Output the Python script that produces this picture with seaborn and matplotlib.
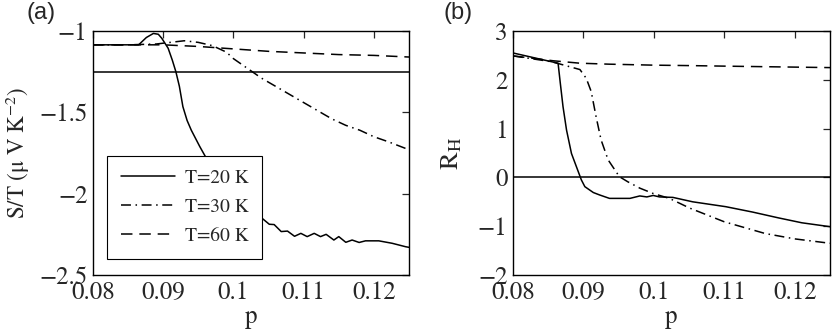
import numpy as np
import pandas as pd
import matplotlib
matplotlib.use("Agg")
import matplotlib.pyplot as plt
import seaborn as sns

# ---- panel (a): S/T vs p ----
p20_a = [0.080, 0.0865, 0.0876, 0.0886, 0.0893, 0.0898, 0.0907, 0.0913, 0.0918, 0.0923,
         0.0928, 0.0934, 0.094, 0.0952, 0.0965, 0.098, 0.0993, 0.1006, 0.102, 0.103,
         0.1039, 0.1051, 0.1058, 0.1068, 0.1077, 0.1087, 0.1096, 0.1105, 0.1115, 0.1124,
         0.1132, 0.1143, 0.115, 0.116, 0.1169, 0.1179, 0.1188, 0.1207, 0.1226, 0.1245, 0.125]
s20_a = [-1.085, -1.085, -1.04, -1.015, -1.02, -1.045, -1.106, -1.18, -1.25, -1.34,
         -1.465, -1.55, -1.61, -1.71, -1.81, -1.93, -2.02, -2.08, -2.09, -2.14,
         -2.145, -2.188, -2.19, -2.233, -2.23, -2.262, -2.244, -2.264, -2.244, -2.264,
         -2.25, -2.285, -2.264, -2.299, -2.285, -2.30, -2.29, -2.29, -2.305, -2.326, -2.33]

p30_a = [0.080, 0.085, 0.089, 0.091, 0.093, 0.095, 0.097, 0.099, 0.100, 0.102,
         0.104, 0.106, 0.108, 0.110, 0.112, 0.114, 0.116, 0.118, 0.120, 0.122, 0.125]
s30_a = [-1.085, -1.085, -1.08, -1.07, -1.06, -1.07, -1.09, -1.13, -1.17, -1.23,
         -1.29, -1.34, -1.39, -1.44, -1.49, -1.54, -1.58, -1.61, -1.65, -1.68, -1.73]

p60_a = [0.080, 0.085, 0.090, 0.095, 0.100, 0.105, 0.110, 0.115, 0.120, 0.125]
s60_a = [-1.085, -1.085, -1.085, -1.095, -1.11, -1.125, -1.135, -1.145, -1.15, -1.16]

# ---- panel (b): R_H vs p ----
p20_b = [0.080, 0.0864, 0.0867, 0.0871, 0.0876, 0.0883, 0.089, 0.0897, 0.0902, 0.0914,
         0.0923, 0.0937, 0.0966, 0.098, 0.099, 0.0999, 0.1008, 0.1027, 0.1055, 0.1102,
         0.114, 0.1177, 0.121, 0.125]
r20_b = [2.55, 2.34, 1.95, 1.45, 0.97, 0.49, 0.22, -0.05, -0.19, -0.31,
         -0.36, -0.43, -0.43, -0.38, -0.40, -0.37, -0.40, -0.41, -0.50, -0.60,
         -0.71, -0.83, -0.93, -1.01]

p30_b = [0.080, 0.0855, 0.0895, 0.0904, 0.0911, 0.0918, 0.0925, 0.0935, 0.0951, 0.0963,
         0.098, 0.0999, 0.1022, 0.1051, 0.110, 0.1158, 0.120, 0.125]
r30_b = [2.49, 2.37, 2.21, 2.03, 1.76, 1.24, 0.77, 0.36, 0.015, -0.09,
         -0.22, -0.33, -0.43, -0.63, -0.91, -1.15, -1.26, -1.35]

p60_b = [0.080, 0.0857, 0.0895, 0.0937, 0.100, 0.1056, 0.110, 0.120, 0.125]
r60_b = [2.49, 2.39, 2.34, 2.32, 2.30, 2.29, 2.28, 2.26, 2.25]

labels = ["T=20 K", "T=30 K", "T=60 K"]

sns.set_style("white")
plt.rcParams['font.family'] = ['STIXGeneral', 'Liberation Serif', 'DejaVu Serif']
plt.rcParams['mathtext.fontset'] = 'stix'

fig = plt.figure(figsize=(8.32, 3.34), dpi=100)
ax1 = fig.add_axes([93 / 832, 1 - 275 / 334, 316 / 832, 244 / 334])
ax2 = fig.add_axes([513 / 832, 1 - 275 / 334, 317 / 832, 244 / 334])

lw = 1.1
styles = [dict(linestyle='-'),
          dict(linestyle=(0, (6.5, 3, 1, 3))),
          dict(linestyle=(0, (7.5, 4.5)))]

def draw(ax, series):
    for (px, py), lab, st in zip(series, labels, styles):
        df = pd.DataFrame({'p': px, 'v': py})
        sns.lineplot(data=df, x='p', y='v', ax=ax, color='black', lw=lw,
                     label=lab, sort=False, **st)
    ax.set_xlim(0.08, 0.125)
    ax.set_xticks([0.08, 0.09, 0.1, 0.11, 0.12])
    ax.set_xticklabels(['0.08', '0.09', '0.1', '0.11', '0.12'])
    ax.set_xlabel('p', fontsize=18, labelpad=0)
    ax.tick_params(direction='in', length=5, width=0.9, top=True, right=True,
                   labelsize=18, pad=4)
    for sp in ax.spines.values():
        sp.set_linewidth(1.0)
        sp.set_color('black')

draw(ax1, [(p20_a, s20_a), (p30_a, s30_a), (p60_a, s60_a)])
ax1.axhline(-1.25, color='black', lw=lw)
ax1.set_ylim(-2.5, -1)
ax1.set_yticks([-2.5, -2, -1.5, -1])
ax1.set_yticklabels(['\u22122.5', '\u22122', '\u22121.5', '\u22121'])
ax1.set_ylabel('S/T (\u03bc V K$^{-2}$)', fontsize=16.5, labelpad=5)
leg = ax1.legend(loc='lower left', bbox_to_anchor=(0.044, 0.066), borderaxespad=0,
                 fontsize=14, handlelength=2.8, handletextpad=0.5, fancybox=False,
                 framealpha=1, edgecolor='black', borderpad=0.7, labelspacing=0.6)
leg.get_frame().set_linewidth(0.8)

draw(ax2, [(p20_b, r20_b), (p30_b, r30_b), (p60_b, r60_b)])
ax2.axhline(0, color='black', lw=lw)
ax2.set_ylim(-2, 3)
ax2.set_yticks([-2, -1, 0, 1, 2, 3])
ax2.set_yticklabels(['\u22122', '\u22121', '0', '1', '2', '3'])
ax2.set_ylabel('R$_\\mathrm{H}$', fontsize=19, labelpad=10)
ax2.get_legend().remove()

fig.text(26 / 832, 0.995, '(a)', fontsize=17, va='top', ha='left', family='Liberation Sans')
fig.text(443 / 832, 0.995, '(b)', fontsize=17, va='top', ha='left', family='Liberation Sans')

fig.savefig('out.png', dpi=100)
